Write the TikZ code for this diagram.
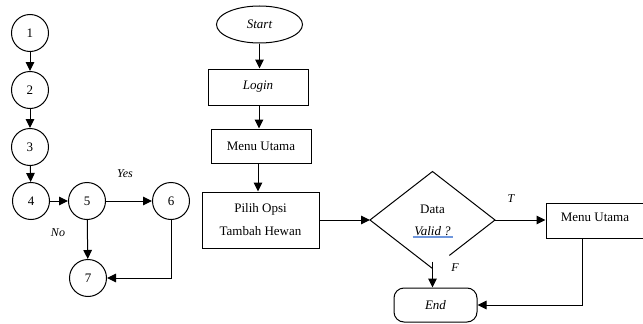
\documentclass[tikz,border=0pt]{standalone}
\usepackage{fontspec}
\setmainfont{Liberation Serif}
\usetikzlibrary{arrows.meta,shapes.geometric,calc}
\definecolor{spellblue}{RGB}{110,150,220}

\begin{document}
\begin{tikzpicture}[x=1pt,y=-1pt,
  line width=1pt,
  every node/.style={font=\fontsize{13}{15}\selectfont, inner sep=0pt},
  state/.style={circle, draw, minimum size=37pt},
  procbox/.style={rectangle, draw, align=center},
  flow/.style={draw, -{Triangle[length=9pt,width=8.5pt]}},
  tag/.style={font=\fontsize{12}{14}\selectfont\itshape}
]
\useasboundingbox (0,0) rectangle (643,324);
\clip (0,0) rectangle (643,324);

% ---- flow graph ----
\node[state] (c1) at (30,33)  {1};
\node[state] (c2) at (30,90)  {2};
\node[state] (c3) at (30,147) {3};
\node[state] (c4) at (31,201) {4};
\node[state] (c5) at (87,201) {5};
\node[state] (c6) at (171,201) {6};
\node[state] (c7) at (88,278) {7};

\draw[flow] (c1) -- (c2);
\draw[flow] (c2) -- (c3);
\draw[flow] (c3) -- (c4);
\draw[flow] (c4) -- (c5);
\draw[flow] (c5) -- (c6);
\draw[flow] (c5) -- (c7);
\draw[flow] (c6.south) |- (c7.east);

\node[tag] (yes) at (125,174) {Yes};
\node[tag] (no)  at (58,233)  {No};

% ---- flowchart ----
\node[ellipse, draw, minimum width=86pt, minimum height=37pt] (start) at (259.5,24.5) {\itshape Start};
\node[procbox, minimum width=100pt, minimum height=36pt] (login) at (258,87) {\itshape Login};
\node[procbox, minimum width=100pt, minimum height=34pt] (menu1) at (261,146) {Menu Utama};
\node[procbox, minimum width=117pt, minimum height=56pt,
      font=\fontsize{13}{23}\selectfont] (pilih) at (260.5,220) {Pilih Opsi\\Tambah Hewan};

\node[diamond, minimum width=124pt, minimum height=96pt, align=center,
      font=\fontsize{13}{22}\selectfont] (dec) at (432.5,220) {Data\\\textit{Valid ?}};
% decision outline, open on its lower right side
\draw (dec.south) -- (dec.west) -- (dec.north) -- (dec.east) -- ($(dec.east)!0.73!(dec.south)$);
% spell-check underline under "Valid ?"
\draw[draw=spellblue, line width=1.2pt] ($(dec.center)+(-20,17)$) -- ($(dec.center)+(20,17)$);

\node[procbox, minimum width=110pt, minimum height=35pt, text height=9.5pt, text depth=8.5pt] (menu2) at (601,220.5) {\hspace*{-12pt}Menu Utama};
\node[procbox, rounded corners=10pt, minimum width=83pt, minimum height=34pt] (end) at (435.5,305) {\itshape End};

% connector end points
\coordinate (loginout) at ($(login.south)+(1,0)$);
\coordinate (menu1out) at ($(menu1.south)+(-3,0)$);
\coordinate (fstart) at ($(dec.south)+(0,-7)$);
\coordinate (m2out) at ($(menu2.south west)+(37,0)$);

\draw[flow] (start.south) -- (start.south |- login.north);
\draw[flow] (loginout) -- (loginout |- menu1.north);
\draw[flow] (menu1out) -- (menu1out |- pilih.north);
\draw[flow] (pilih.east) -- (dec.west);
\draw[flow] (dec.east) -- (dec.east -| menu2.west);
\draw[flow] (fstart) -- (fstart |- end.north);
\draw[flow] (m2out) |- (end.east);

\node[tag] (tlabel) at (511,199) {T};
\node[tag] (flabel) at (455,268) {F};
\end{tikzpicture}
\end{document}
